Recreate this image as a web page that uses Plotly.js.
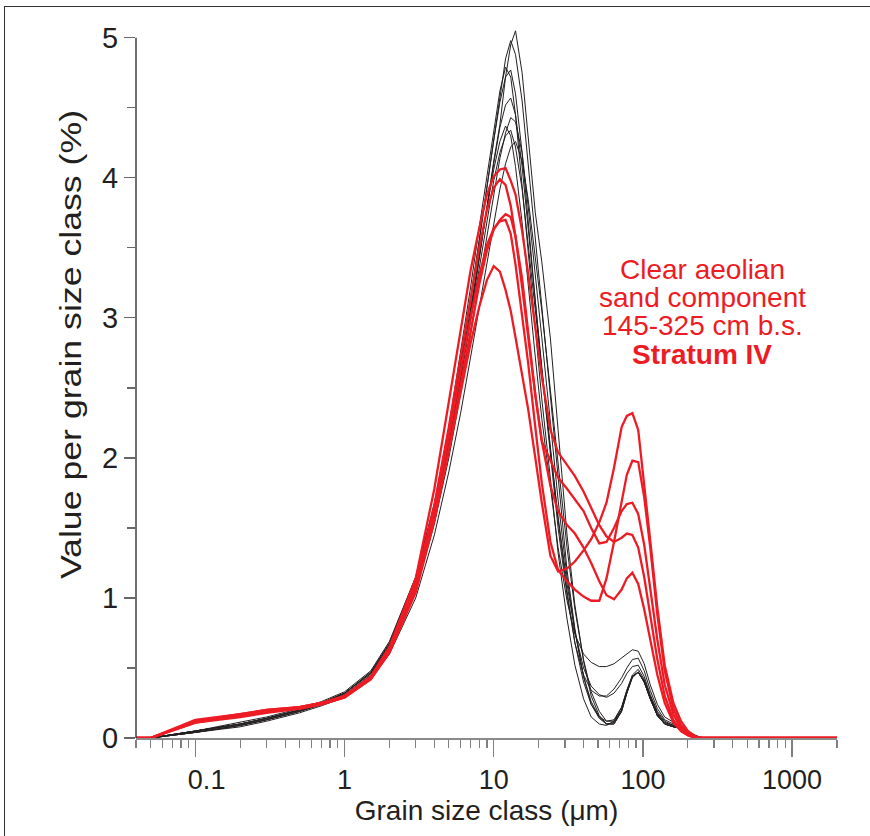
<!DOCTYPE html>
<html><head><meta charset="utf-8">
<script src="https://cdn.plot.ly/plotly-3.0.1.min.js"></script>
<style>
html,body{margin:0;padding:0;background:#fff;}
#chart{width:870px;height:836px;}
#frame{position:absolute;left:4px;top:6px;width:880px;height:840px;border-left:1.3px solid #333;border-top:1.3px solid #333;pointer-events:none;}
</style>
</head><body>
<div id="chart"></div><div id="frame"></div>
<script>
// grain size classes (µm)
var grainSize = [0.04,0.05,0.1,0.2,0.3,0.5,0.7,1,1.5,2,3,4,5,6,7,8,9,10,11,12,13,14,15.5,17,19,21,24,27,31,35,40,45,51,57,64,72,78,85,93,102,112,125,140,160,180,200,225,250,300,500,1000,2000];

// other samples (black)
var black1 = [0,0,0.04,0.09,0.13,0.19,0.24,0.30,0.44,0.63,1.05,1.55,2.05,2.55,3.00,3.42,3.80,4.12,4.38,4.72,4.95,5.05,4.75,4.30,3.75,3.40,2.85,2.20,1.45,0.95,0.55,0.30,0.16,0.10,0.10,0.19,0.32,0.44,0.47,0.40,0.28,0.16,0.10,0.08,0.07,0.04,0.01,0,0,0,0,0];
var black2 = [0,0,0.04,0.09,0.13,0.19,0.24,0.31,0.45,0.66,1.10,1.62,2.15,2.66,3.12,3.55,3.93,4.28,4.60,4.85,4.98,4.88,4.55,4.10,3.55,3.05,2.45,1.85,1.20,0.78,0.44,0.24,0.14,0.10,0.11,0.20,0.33,0.44,0.47,0.40,0.28,0.16,0.10,0.08,0.07,0.04,0.01,0,0,0,0,0];
var black3 = [0,0,0.05,0.10,0.14,0.20,0.25,0.32,0.47,0.68,1.15,1.68,2.22,2.75,3.22,3.65,4.02,4.35,4.62,4.79,4.72,4.45,3.95,3.45,2.90,2.42,1.85,1.32,0.85,0.52,0.28,0.15,0.10,0.09,0.12,0.22,0.34,0.44,0.47,0.40,0.28,0.16,0.10,0.08,0.07,0.04,0.01,0,0,0,0,0];
var black4 = [0,0,0.05,0.10,0.14,0.20,0.25,0.32,0.46,0.66,1.12,1.64,2.16,2.68,3.14,3.56,3.94,4.27,4.54,4.72,4.77,4.60,4.18,3.68,3.12,2.62,2.02,1.50,1.02,0.68,0.45,0.34,0.30,0.30,0.35,0.43,0.50,0.56,0.57,0.48,0.34,0.21,0.13,0.10,0.08,0.05,0.01,0,0,0,0,0];
var black5 = [0,0,0.05,0.10,0.14,0.20,0.25,0.32,0.46,0.66,1.10,1.60,2.10,2.60,3.04,3.44,3.80,4.10,4.36,4.52,4.57,4.45,4.08,3.62,3.12,2.65,2.08,1.56,1.05,0.68,0.40,0.24,0.15,0.12,0.13,0.22,0.34,0.45,0.49,0.42,0.30,0.18,0.11,0.09,0.07,0.04,0.01,0,0,0,0,0];
var black6 = [0,0,0.04,0.09,0.13,0.19,0.24,0.31,0.44,0.63,1.05,1.53,2.00,2.46,2.88,3.26,3.60,3.90,4.14,4.32,4.43,4.40,4.18,3.80,3.32,2.86,2.25,1.70,1.15,0.76,0.44,0.26,0.15,0.10,0.10,0.19,0.32,0.44,0.47,0.40,0.28,0.16,0.10,0.08,0.07,0.04,0.01,0,0,0,0,0];
var black7 = [0,0,0.05,0.11,0.15,0.21,0.26,0.33,0.48,0.69,1.15,1.66,2.16,2.64,3.06,3.44,3.78,4.06,4.26,4.37,4.30,4.08,3.68,3.22,2.72,2.28,1.78,1.36,0.98,0.74,0.60,0.54,0.51,0.51,0.53,0.57,0.60,0.63,0.62,0.53,0.38,0.24,0.15,0.11,0.08,0.05,0.02,0,0,0,0,0];
var black8 = [0,0,0.05,0.10,0.14,0.20,0.25,0.32,0.47,0.67,1.12,1.62,2.10,2.56,2.98,3.36,3.70,3.98,4.18,4.30,4.34,4.22,3.92,3.52,3.06,2.62,2.06,1.58,1.10,0.76,0.50,0.37,0.31,0.29,0.32,0.39,0.46,0.51,0.52,0.44,0.31,0.19,0.12,0.09,0.07,0.04,0.01,0,0,0,0,0];
var black9 = [0,0,0.04,0.08,0.12,0.18,0.23,0.29,0.42,0.60,1.00,1.45,1.90,2.32,2.72,3.08,3.40,3.68,3.92,4.10,4.22,4.26,4.12,3.85,3.45,3.05,2.48,1.95,1.36,0.92,0.56,0.33,0.19,0.12,0.12,0.20,0.32,0.43,0.47,0.41,0.29,0.17,0.11,0.09,0.07,0.04,0.01,0,0,0,0,0];

// Stratum IV, 145-325 cm b.s. (red)
var red1 = [0,0,0.12,0.16,0.19,0.22,0.25,0.30,0.43,0.63,1.06,1.56,2.05,2.48,2.82,3.08,3.27,3.37,3.33,3.20,3.05,2.86,2.60,2.35,2.00,1.68,1.30,1.19,1.21,1.26,1.34,1.42,1.54,1.68,1.93,2.22,2.30,2.32,2.20,1.82,1.41,0.93,0.52,0.25,0.12,0.05,0.01,0,0,0,0,0];
var red2 = [0,0,0.11,0.16,0.19,0.21,0.24,0.29,0.42,0.62,1.08,1.62,2.15,2.62,3.00,3.30,3.52,3.64,3.69,3.70,3.60,3.38,3.02,2.68,2.22,1.82,1.40,1.20,1.12,1.06,1.01,0.98,0.98,1.14,1.40,1.70,1.88,1.98,1.97,1.72,1.36,0.88,0.48,0.21,0.09,0.04,0.01,0,0,0,0,0];
var red3 = [0,0,0.12,0.17,0.20,0.22,0.25,0.30,0.43,0.64,1.10,1.66,2.22,2.72,3.14,3.50,3.77,3.93,3.99,3.95,3.80,3.58,3.22,2.86,2.45,2.12,1.80,1.62,1.52,1.46,1.36,1.25,1.12,1.02,0.99,1.06,1.14,1.18,1.10,0.92,0.70,0.45,0.25,0.11,0.05,0.02,0,0,0,0,0,0];
var red4 = [0,0,0.13,0.17,0.20,0.22,0.25,0.30,0.44,0.65,1.14,1.78,2.40,2.92,3.34,3.64,3.88,4.01,4.06,4.07,3.98,3.88,3.62,3.32,2.92,2.58,2.20,2.04,1.95,1.87,1.76,1.64,1.52,1.44,1.40,1.43,1.46,1.45,1.36,1.15,0.88,0.56,0.30,0.13,0.05,0.02,0,0,0,0,0,0];
var red5 = [0,0,0.11,0.15,0.18,0.21,0.24,0.29,0.42,0.61,1.04,1.55,2.06,2.52,2.92,3.24,3.48,3.63,3.70,3.74,3.72,3.58,3.28,2.90,2.45,2.12,1.98,1.86,1.78,1.70,1.62,1.50,1.39,1.40,1.50,1.62,1.67,1.68,1.60,1.38,1.08,0.70,0.38,0.17,0.07,0.03,0.01,0,0,0,0,0];

var blackSeries = [black1,black2,black3,black4,black5,black6,black7,black8,black9];
var redSeries = [red1,red2,red3,red4,red5];

var xTickVals = [0.1,1,10,100,1000];
var xTickText = ['\u00a0\u00a0\u00a00.1','1','10','100','1000'];
var yTickVals = [0,1,2,3,4,5];
var noteLines = ['Clear aeolian','sand component','145-325 cm b.s.','<b>Stratum IV</b>'];
var noteY = [3.349,3.146,2.943,2.741];

var BLACK = '#231f20', RED = '#ed1c24';
var data = [];
blackSeries.forEach(function(s){
  data.push({x:grainSize, y:s, type:'scatter', mode:'lines', line:{color:BLACK, width:1}, hoverinfo:'skip'});
});
redSeries.forEach(function(s){
  data.push({x:grainSize, y:s, type:'scatter', mode:'lines', line:{color:RED, width:2.3}, hoverinfo:'skip'});
});

var FONT = 'Liberation Sans, Arial, Helvetica, sans-serif';
var annotations = noteLines.map(function(t,i){
  return {xref:'paper', yref:'y', x:0.808, y:noteY[i], xanchor:'center', yanchor:'middle',
          text:t, showarrow:false, font:{family:FONT, size:28, color:RED}};
});

var layout = {
  width:870, height:836,
  margin:{l:135.5, r:33.3, t:21.2, b:98, pad:0},
  paper_bgcolor:'#fff', plot_bgcolor:'rgba(0,0,0,0)',
  showlegend:false,
  font:{family:FONT, color:BLACK},
  xaxis:{type:'log', range:[Math.log10(0.04), Math.log10(2000)],
    tickmode:'array', tickvals:xTickVals, ticktext:xTickText,
    ticks:'outside', ticklen:17, tickwidth:1.2, tickcolor:'#808080',
    showline:true, linecolor:'#8a8a8a', linewidth:1.6, showgrid:false, zeroline:false,
    tickfont:{family:FONT, size:27, color:BLACK},
    minor:{tickmode:'linear', dtick:'D1', ticks:'outside', ticklen:8, tickwidth:1.2, tickcolor:'#808080', showgrid:false},
    title:{text:'Grain size class (μm)', font:{family:FONT, size:28, color:BLACK}, standoff:2}},
  yaxis:{range:[0,5.12], tickmode:'array', tickvals:yTickVals,
    ticks:'outside', ticklen:11, tickwidth:1.2, tickcolor:'#666',
    showline:false, showgrid:false, zeroline:false,
    tickfont:{family:FONT, size:29, color:BLACK},
    minor:{tickmode:'linear', tick0:0, dtick:0.5, ticks:'outside', ticklen:8, tickwidth:1.2, tickcolor:'#666', showgrid:false},
    title:{text:'Value per grain size class (%)', font:{family:FONT, size:29, color:BLACK}, standoff:11}},
  shapes:[{type:'line', xref:'paper', yref:'y', x0:0, x1:0, y0:0, y1:5, line:{color:'#333', width:1.4}}],
  annotations:annotations
};

var gd = document.getElementById('chart');
Plotly.newPlot(gd, data, layout, {staticPlot:true, displayModeBar:false}).then(function(){
  var t = gd.querySelector('.ytitle');
  if (t) {
    var x = +t.getAttribute('x'), y = +t.getAttribute('y');
    t.setAttribute('transform','rotate(-90,'+x+','+y+') translate('+x+','+y+') translate(35,0) scale(1.23,1) translate('+(-x)+','+(-y)+')');
  }
});
</script>
</body></html>
